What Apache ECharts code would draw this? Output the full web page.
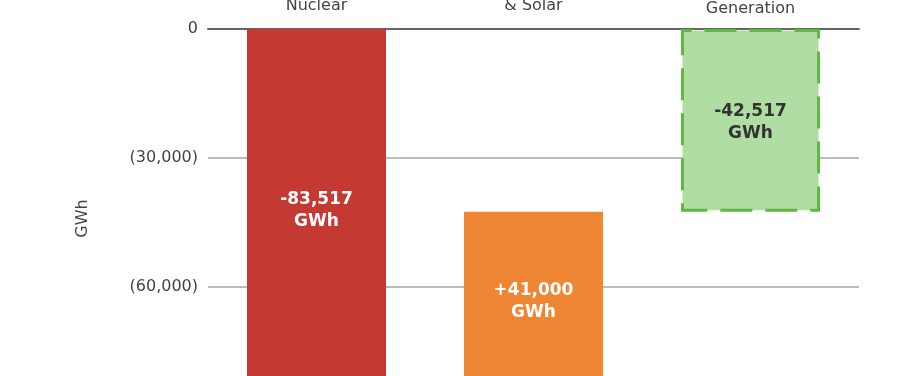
<!DOCTYPE html>
<html lang="en">
  <head>
    <meta charset="UTF-8" />
    <title>Generation change waterfall</title>
    <script src="https://cdn.jsdelivr.net/npm/echarts@6/dist/echarts.min.js"></script>
    <style>
      * {
        margin: 0;
        padding: 0;
      }
      body {
        background: #fff;
      }
    </style>
  </head>
  <body>
    <div id="main" style="height: 376px; width: 906px"></div>
    <script>
      // first lines of the category labels sit above the visible area
      var categories = ['Retiring\nNuclear', 'New Wind\n& Solar', 'Net Change in\nGeneration'];
      var changes = [-83517, 41000, -42517];
      var barLabels = ['-83,517\nGWh', '+41,000\nGWh', '-42,517\nGWh'];
      var yTicks = [0, -30000, -60000, -90000];

      var font = 'DejaVu Sans';
      var myChart = echarts.init(document.getElementById('main'));

      // waterfall: invisible base + visible part, stacked
      var base = [0, changes[0] + changes[1], 0];
      var visible = [changes[0], -changes[1], changes[2]];

      function fmt(v) {
        if (v === 0) return '0';
        var s = Math.abs(v).toLocaleString('en-US');
        return v < 0 ? '(' + s + ')' : s;
      }

      myChart.setOption({
        animation: false,
        // bottom goes past the window so the -90,000 tick sits off screen
        grid: { left: 208, right: 47, top: 29, bottom: -40, outerBoundsMode: 'none', containLabel: false },
        xAxis: {
          type: 'category',
          position: 'top',
          data: [
            categories[0],
            categories[1],
            { value: categories[2], textStyle: { padding: [0, 0, -3, 0] } }
          ],
          axisLine: { lineStyle: { color: '#666', width: 2 } },
          axisTick: { show: false },
          axisLabel: {
            color: '#444',
            fontFamily: font,
            fontSize: 16,
            lineHeight: 20,
            margin: 13
          }
        },
        yAxis: {
          type: 'value',
          min: yTicks[yTicks.length - 1],
          max: yTicks[0],
          interval: 30000,
          name: 'GWh',
          nameLocation: 'middle',
          nameGap: 117,
          nameRotate: 90,
          nameTextStyle: { color: '#444', fontFamily: font, fontSize: 16, padding: [0, 0, 0, 8] },
          axisLine: { show: false },
          axisTick: { show: false },
          axisLabel: {
            color: '#444',
            fontFamily: font,
            fontSize: 16,
            margin: 10,
            formatter: fmt
          },
          splitLine: { lineStyle: { color: '#bbb', width: 2 } }
        },
        series: [
          {
            type: 'bar',
            stack: 'w',
            barWidth: 139,
            itemStyle: { color: 'transparent' },
            emphasis: { disabled: true },
            data: base
          },
          {
            type: 'bar',
            stack: 'w',
            barWidth: 139,
            label: {
              show: true,
              position: 'inside',
              offset: [0, 2],
              fontFamily: font,
              fontWeight: 'bold',
              fontSize: 17,
              lineHeight: 22,
              color: '#fff',
              formatter: function (p) {
                return barLabels[p.dataIndex];
              }
            },
            data: [
              { value: visible[0], itemStyle: { color: '#C43A32' } },
              { value: visible[1], itemStyle: { color: '#EF8634' } },
              {
                value: visible[2],
                itemStyle: {
                  color: '#B0DDA2',
                  borderColor: '#5EB943',
                  borderWidth: 3,
                  borderType: [32, 13],
                  borderDashOffset: 23
                },
                label: { color: '#333' }
              }
            ]
          }
        ]
      });
    </script>
  </body>
</html>
